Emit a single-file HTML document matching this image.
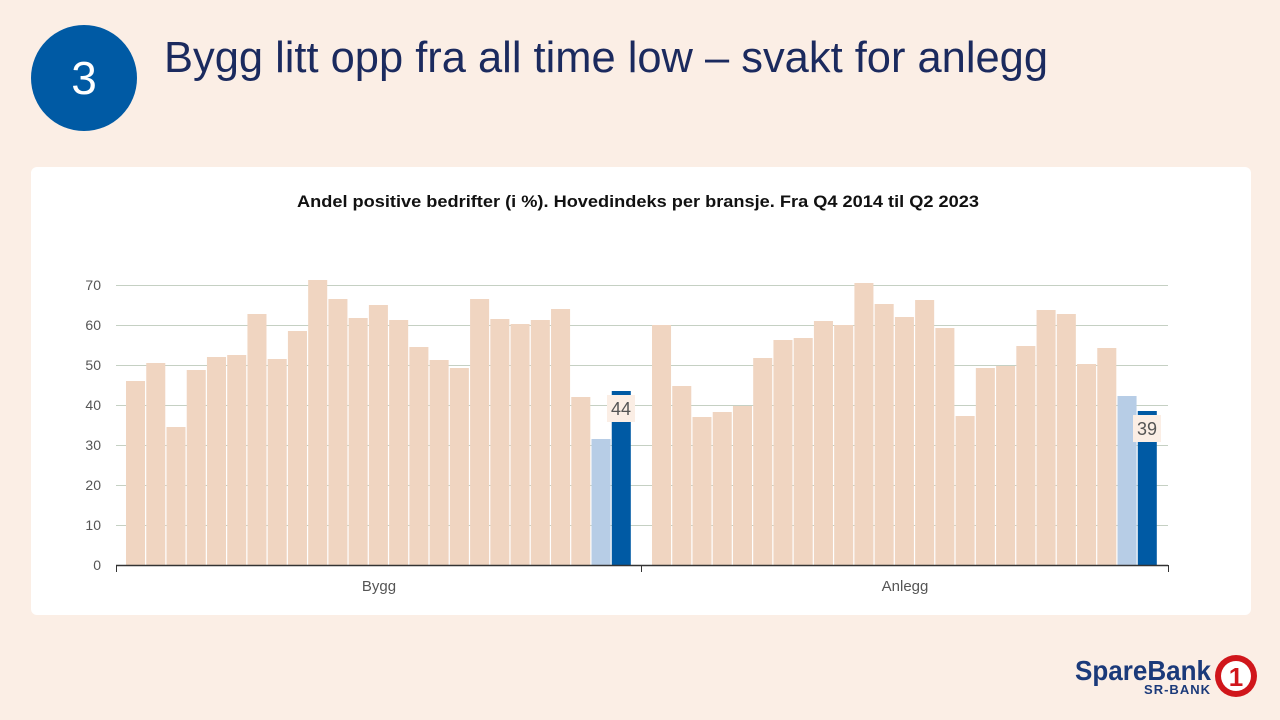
<!DOCTYPE html>
<html><head><meta charset="utf-8"><style>
body{margin:0;width:1280px;height:720px;background:#fbeee5;font-family:"Liberation Sans",sans-serif;overflow:hidden;position:relative}
.circ{position:absolute;left:31px;top:25px;width:106px;height:106px;border-radius:50%;background:#005aa4;color:#fff;font-size:46px;text-align:center;line-height:106px}
.card{position:absolute;left:31px;top:167px;width:1220px;height:448px;background:#fff;border-radius:6px}
</style></head><body>
<div class="circ">3</div>
<div class="card"></div>
<svg width="1280" height="720" style="position:absolute;left:0;top:0" font-family="Liberation Sans, sans-serif">
<text x="164" y="72" font-size="44" fill="#1b2a5e" textLength="884" lengthAdjust="spacingAndGlyphs">Bygg litt opp fra all time low – svakt for anlegg</text>
<text x="297" y="207" font-size="16.5" font-weight="bold" fill="#111" textLength="682" lengthAdjust="spacingAndGlyphs">Andel positive bedrifter (i %). Hovedindeks per bransje. Fra Q4 2014 til Q2 2023</text>
<g id="grid" stroke="#c5d0c3" stroke-width="1"></g>
<g id="bars"></g>
<g id="ylab" font-size="14" fill="#555" text-anchor="end"></g>
<line x1="116" y1="565.5" x2="1168" y2="565.5" stroke="#333" stroke-width="1.5"/>
<line x1="116.5" y1="565" x2="116.5" y2="572" stroke="#333"/>
<line x1="641.5" y1="565" x2="641.5" y2="572" stroke="#333"/>
<line x1="1168.5" y1="565" x2="1168.5" y2="572" stroke="#333"/>
<text x="379" y="591" text-anchor="middle" font-size="15" fill="#555">Bygg</text>
<text x="905" y="591" text-anchor="middle" font-size="15" fill="#555">Anlegg</text>
<g id="lbl"></g>
<text x="1075" y="680" font-size="28" font-weight="bold" fill="#1b3a7a" textLength="136" lengthAdjust="spacingAndGlyphs">SpareBank</text>
<text x="1211" y="694" text-anchor="end" font-size="13" font-weight="bold" fill="#1b3a7a" letter-spacing="1">SR-BANK</text>
<circle cx="1236" cy="676" r="21" fill="#d0161b"/>
<circle cx="1236" cy="676" r="15" fill="#fff"/>
<text x="1236" y="686" text-anchor="middle" font-size="26" font-weight="bold" fill="#d0161b">1</text>
</svg>
<script>
const ns="http://www.w3.org/2000/svg";
function el(p,t,a,txt){const e=document.createElementNS(ns,t);for(const k in a)e.setAttribute(k,a[k]);if(txt!==undefined)e.textContent=txt;document.getElementById(p).appendChild(e);}
for(let v=0;v<=70;v+=10){const y=565-v*4;if(v>0)el("grid","line",{x1:116,x2:1168,y1:y+0.5,y2:y+0.5});el("ylab","text",{x:101,y:y+5},String(v));}
const A=[46,50.5,34.5,48.75,52,52.5,62.75,51.5,58.5,71.25,66.5,61.75,65,61.25,54.5,51.25,49.25,66.5,61.5,60.25,61.25,64,42,31.5,43.5];
const B=[60,44.75,37,38.25,39.75,51.75,56.25,56.75,61,60,70.5,65.25,62,66.25,59.25,37.25,49.25,49.75,54.75,63.75,62.75,50.25,54.25,42.25,38.5];
function draw(vals,x0){const p=506/25;vals.forEach((v,i)=>{const c=i==24?"#005aa4":i==23?"#b7cde6":"#f0d5c1";el("bars","rect",{x:x0+i*p,y:565-v*4,width:p-1.2,height:v*4,fill:c});});}
draw(A,126);draw(B,652);
el("lbl","rect",{x:607,y:395,width:28,height:27,fill:"#fbeee5"});
el("lbl","text",{x:621,y:415,"text-anchor":"middle","font-size":18,fill:"#555"},"44");
el("lbl","rect",{x:1133,y:415,width:28,height:27,fill:"#fbeee5"});
el("lbl","text",{x:1147,y:435,"text-anchor":"middle","font-size":18,fill:"#555"},"39");
</script>
</body></html>
